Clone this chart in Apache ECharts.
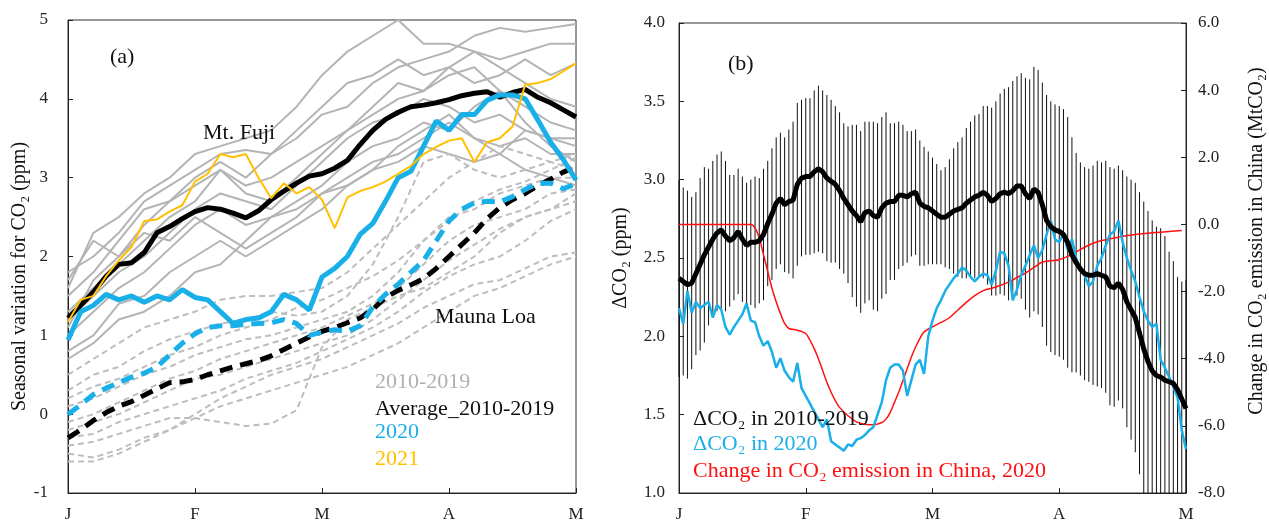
<!DOCTYPE html>
<html>
<head>
<meta charset="utf-8">
<script src="https://cdn.jsdelivr.net/npm/echarts@6.0.0/dist/echarts.min.js"></script>
<style>
    html, body { margin: 0; padding: 0; background: #fff; }
    #chart { width: 1269px; height: 523px; }
</style>
</head>
<body>
<div id="chart"></div>
<script>
// x runs in days from 1 Jan (0) to 1 May (120)
const monthLabels = ["J", "F", "M", "A", "M"];

// (a) thick lines, one value every 3 days
const fujiAvg = [1.22, 1.38, 1.55, 1.75, 1.90, 1.92, 2.05, 2.30, 2.38, 2.48, 2.57, 2.62, 2.60, 2.55, 2.49, 2.58, 2.72, 2.83, 2.93, 3.02, 3.05,
    3.12, 3.22, 3.42, 3.60, 3.74, 3.83, 3.90, 3.92, 3.95, 3.99, 4.04, 4.07, 4.09, 4.02, 4.08, 4.12, 4.02, 3.95, 3.86, 3.77];
const fuji2020 = [0.94, 1.30, 1.38, 1.52, 1.45, 1.50, 1.42, 1.50, 1.45, 1.58, 1.48, 1.45, 1.30, 1.15, 1.20, 1.22, 1.30, 1.52, 1.45, 1.32, 1.74,
    1.85, 2.00, 2.28, 2.42, 2.70, 3.00, 3.08, 3.40, 3.72, 3.60, 3.80, 3.80, 3.98, 4.05, 4.05, 4.00, 3.73, 3.45, 3.23, 2.97];
const fuji2021 = [1.17, 1.45, 1.50, 1.75, 1.95, 2.12, 2.45, 2.47, 2.57, 2.65, 2.95, 3.05, 3.30, 3.26, 3.30, 3.00, 2.74, 2.93, 2.80, 2.88, 2.72,
    2.36, 2.75, 2.83, 2.88, 2.95, 3.05, 3.15, 3.30, 3.39, 3.47, 3.50, 3.20, 3.45, 3.50, 3.65, 4.18, 4.20, 4.25, 4.35, 4.45];
const maunaAvg = [-0.30, -0.20, -0.08, 0.02, 0.10, 0.16, 0.24, 0.32, 0.40, 0.41, 0.44, 0.50, 0.55, 0.60, 0.64, 0.68, 0.74, 0.82, 0.90, 0.98, 1.05,
    1.10, 1.16, 1.22, 1.33, 1.48, 1.57, 1.64, 1.72, 1.85, 2.00, 2.15, 2.30, 2.48, 2.62, 2.72, 2.80, 2.90, 2.98, 3.07, 3.14];
const mauna2020 = [0.00, 0.12, 0.25, 0.33, 0.40, 0.47, 0.52, 0.60, 0.75, 0.90, 1.02, 1.10, 1.12, 1.12, 1.14, 1.15, 1.16, 1.20, 1.15, 1.00, 1.04,
    1.07, 1.05, 1.12, 1.36, 1.52, 1.65, 1.80, 1.95, 2.20, 2.45, 2.60, 2.68, 2.70, 2.69, 2.76, 2.85, 2.93, 2.93, 2.86, 2.92];

// (a) single years 2010-2019, one value every 6 days
const fujiYears = [
    [1.6, 2.3, 2.5, 2.8, 3.0, 3.3, 3.4, 3.5, 3.6, 3.9, 4.3, 4.6, 4.8, 5.0, 4.7, 4.7, 4.6, 4.5, 4.6, 4.7, 4.7],
    [1.8, 2.0, 2.3, 2.7, 2.9, 3.1, 3.3, 3.35, 3.3, 3.5, 3.8, 3.9, 4.2, 4.4, 4.5, 4.6, 4.8, 4.9, 4.85, 4.9, 4.95],
    [1.5, 1.8, 2.2, 2.6, 2.7, 3.0, 3.2, 3.0, 3.3, 3.6, 3.9, 4.2, 4.3, 4.5, 4.3, 4.4, 4.2, 4.3, 4.5, 4.3, 4.45],
    [1.3, 1.6, 1.9, 2.2, 2.5, 2.7, 3.1, 2.9, 3.0, 3.2, 3.4, 3.6, 3.8, 4.0, 4.1, 4.4, 4.6, 4.4, 4.2, 4.0, 3.9],
    [1.2, 1.5, 1.8, 2.0, 2.3, 2.6, 2.8, 2.7, 2.6, 2.9, 3.2, 3.5, 3.7, 3.8, 4.0, 3.9, 3.7, 3.8, 3.6, 3.5, 3.5],
    [1.0, 1.3, 1.6, 1.8, 2.1, 2.4, 2.6, 2.4, 2.5, 2.7, 2.9, 3.2, 3.4, 3.5, 3.7, 3.6, 3.9, 4.1, 3.7, 3.4, 3.2],
    [1.1, 1.7, 2.0, 2.3, 2.2, 2.5, 2.3, 2.1, 2.3, 2.5, 2.8, 3.0, 3.2, 3.3, 3.5, 3.7, 3.5, 3.4, 3.5, 3.3, 3.3],
    [0.8, 1.0, 1.4, 1.5, 1.8, 2.0, 2.2, 2.0, 2.2, 2.4, 2.6, 2.9, 3.1, 3.2, 3.4, 3.3, 3.2, 3.3, 3.6, 3.5, 3.4],
    [0.7, 0.9, 1.2, 1.3, 1.5, 1.8, 1.9, 2.2, 2.5, 2.6, 2.8, 2.9, 3.1, 3.4, 3.6, 3.8, 3.5, 3.3, 3.1, 3.0, 2.9],
    [1.7, 2.2, 2.0, 2.4, 2.7, 2.9, 3.1, 2.8, 2.7, 3.0, 3.3, 3.6, 3.9, 4.2, 4.1, 4.3, 4.4, 4.1, 3.9, 3.7, 3.6]
];
const maunaYears = [
    [0.5, 0.7, 0.9, 1.1, 1.2, 1.3, 1.45, 1.5, 1.5, 1.55, 1.6, 1.8, 2.1, 2.4, 2.7, 3.0, 3.2, 3.4, 3.3, 3.2, 3.3],
    [0.3, 0.5, 0.6, 0.8, 0.95, 1.05, 1.15, 1.2, 1.3, 1.25, 1.3, 1.5, 1.9, 2.5, 3.2, 3.3, 3.1, 3.0, 3.1, 3.2, 3.1],
    [0.1, 0.2, 0.35, 0.5, 0.6, 0.75, 0.85, 0.95, 1.0, 1.1, 1.2, 1.3, 1.5, 1.8, 2.2, 2.5, 2.6, 2.8, 2.9, 3.0, 3.0],
    [-0.1, 0.0, 0.15, 0.3, 0.45, 0.55, 0.7, 0.8, 0.9, 1.0, 1.1, 1.25, 1.4, 1.6, 1.9, 2.2, 2.4, 2.5, 2.6, 2.8, 2.85],
    [-0.2, -0.1, 0.0, 0.15, 0.3, 0.45, 0.5, 0.6, 0.7, 0.8, 0.9, 1.0, 1.2, 1.45, 1.7, 1.95, 2.15, 2.35, 2.5, 2.6, 2.7],
    [-0.3, -0.25, -0.1, 0.0, 0.1, 0.2, 0.3, 0.45, 0.55, 0.65, 0.8, 0.95, 1.1, 1.3, 1.55, 1.75, 1.9, 2.0, 2.2, 2.45, 2.6],
    [-0.4, -0.35, -0.25, -0.15, -0.05, -0.05, -0.1, -0.15, -0.12, 0.05, 0.85, 1.2, 1.35, 1.5, 1.6, 1.8, 2.0, 2.3, 2.5, 2.6, 2.8],
    [-0.5, -0.55, -0.45, -0.3, -0.2, -0.05, 0.1, 0.2, 0.3, 0.4, 0.5, 0.6, 0.75, 0.9, 1.1, 1.3, 1.5, 1.6, 1.75, 1.9, 2.0],
    [-0.6, -0.6, -0.5, -0.35, -0.2, 0.0, 0.2, 0.35, 0.5, 0.6, 0.7, 0.85, 1.0, 1.15, 1.35, 1.5, 1.65, 1.7, 1.85, 2.0, 2.05],
    [0.2, 0.35, 0.45, 0.6, 0.75, 0.85, 1.0, 1.1, 1.2, 1.35, 1.45, 1.6, 1.75, 1.95, 2.2, 2.45, 2.7, 2.85, 2.95, 3.1, 3.25]
];

// (b) daily values, 121 days
const dco2Mean = [
    2.37, 2.35, 2.33, 2.34, 2.40, 2.46, 2.52, 2.57, 2.62, 2.66,
    2.68, 2.64, 2.61, 2.63, 2.67, 2.62, 2.58, 2.60, 2.60, 2.61,
    2.65, 2.72, 2.78, 2.85, 2.88, 2.84, 2.86, 2.87, 2.97, 3.01,
    3.02, 3.02, 3.05, 3.07, 3.05, 3.01, 2.99, 2.97, 2.93, 2.88,
    2.84, 2.80, 2.77, 2.73, 2.79, 2.80, 2.77, 2.76, 2.82, 2.85,
    2.86, 2.86, 2.90, 2.90, 2.89, 2.91, 2.92, 2.85, 2.83, 2.82,
    2.80, 2.78, 2.76, 2.76, 2.78, 2.80, 2.81, 2.82, 2.85, 2.87,
    2.89, 2.90, 2.92, 2.90, 2.86, 2.88, 2.91, 2.92, 2.91, 2.93,
    2.96, 2.96, 2.91, 2.88, 2.94, 2.92, 2.84, 2.74, 2.70, 2.68,
    2.67, 2.65, 2.60, 2.52, 2.47, 2.43, 2.40, 2.39, 2.39, 2.40,
    2.39, 2.38, 2.32, 2.31, 2.34, 2.30, 2.22, 2.17, 2.12, 2.02,
    1.92, 1.84, 1.78, 1.75, 1.74, 1.72, 1.71, 1.70, 1.66, 1.60,
    1.54
];
const dco2Sd = [
    0.63, 0.60, 0.60, 0.55, 0.52, 0.55, 0.56, 0.50, 0.50, 0.50,
    0.50, 0.48, 0.42, 0.40, 0.40, 0.40, 0.40, 0.40, 0.42, 0.40,
    0.42, 0.40, 0.42, 0.42, 0.42, 0.43, 0.46, 0.50, 0.52, 0.50,
    0.50, 0.50, 0.52, 0.53, 0.52, 0.53, 0.52, 0.50, 0.50, 0.48,
    0.50, 0.55, 0.58, 0.58, 0.58, 0.57, 0.60, 0.60, 0.58, 0.58,
    0.50, 0.50, 0.47, 0.45, 0.42, 0.40, 0.40, 0.40, 0.38, 0.36,
    0.34, 0.32, 0.30, 0.32, 0.35, 0.40, 0.43, 0.45, 0.48, 0.50,
    0.52, 0.52, 0.55, 0.57, 0.60, 0.62, 0.64, 0.66, 0.68, 0.70,
    0.70, 0.72, 0.74, 0.76, 0.78, 0.78, 0.78, 0.80, 0.80, 0.80,
    0.80, 0.80, 0.80, 0.75, 0.70, 0.68, 0.68, 0.68, 0.70, 0.72,
    0.72, 0.74, 0.76, 0.76, 0.75, 0.76, 0.80, 0.83, 0.86, 0.90,
    0.94, 0.96, 0.96, 0.95, 0.95, 0.92, 0.83, 0.78, 0.72, 0.75,
    0.82
];
const dco2Year2020 = [
    2.18, 2.08, 2.29, 2.15, 2.22, 2.18, 2.20, 2.22, 2.12, 2.20,
    2.17, 2.06, 2.01, 2.06, 2.10, 2.14, 2.21, 2.10, 2.09, 2.00,
    1.94, 1.97, 1.90, 1.80, 1.86, 1.78, 1.74, 1.71, 1.83, 1.67,
    1.62, 1.57, 1.52, 1.47, 1.42, 1.47, 1.33, 1.31, 1.29, 1.27,
    1.31, 1.30, 1.34, 1.35, 1.37, 1.40, 1.42, 1.50, 1.58, 1.72,
    1.80, 1.82, 1.82, 1.78, 1.62, 1.72, 1.82, 1.85, 1.76, 2.00,
    2.10, 2.18, 2.23, 2.29, 2.33, 2.37, 2.40, 2.44, 2.42, 2.38,
    2.35, 2.38, 2.40, 2.39, 2.33, 2.42, 2.54, 2.53, 2.45, 2.23,
    2.30, 2.39, 2.45, 2.52, 2.58, 2.50, 2.55, 2.65, 2.74, 2.62,
    2.60, 2.66, 2.55, 2.62, 2.50, 2.42, 2.39, 2.32, 2.35, 2.45,
    2.50, 2.58, 2.65, 2.67, 2.74, 2.60, 2.50, 2.42, 2.35, 2.25,
    2.16, 2.10, 2.06, 2.08, 1.85, 1.80, 1.74, 1.68, 1.61, 1.40,
    1.28
];
const emissionDays = [0, 17, 18, 19, 20, 21, 22, 23, 24, 25, 26, 28, 30, 31, 32, 33, 34, 35, 36, 37, 38,
    40, 42, 44, 46, 48, 49, 50, 51, 52, 53, 54, 55, 56, 57, 58,
    60, 62, 64, 66, 68, 70, 72, 74, 76, 78, 80, 82, 84, 86, 88, 90,
    92, 94, 96, 98, 100, 104, 108, 112, 116, 119];
const emissionChange = [0, 0, -0.1, -0.4, -0.9, -1.4, -1.9, -2.3, -2.65, -2.95, -3.1, -3.15, -3.25, -3.45, -3.7, -4.0, -4.35, -4.7, -5.0, -5.25, -5.45,
    -5.7, -5.88, -5.95, -5.97, -5.9, -5.8, -5.6, -5.3, -5.0, -4.65, -4.3, -3.95, -3.65, -3.4, -3.2,
    -3.05, -2.92, -2.78, -2.55, -2.32, -2.12, -1.97, -1.9, -1.82, -1.72, -1.58, -1.45, -1.28, -1.12, -1.08, -1.05,
    -0.95, -0.82, -0.68, -0.56, -0.48, -0.38, -0.3, -0.25, -0.21, -0.18];

const serif = "Liberation Serif";
const grey = "#b4b4b4";
const blue = "#19afe8";
const gold = "#ffc000";

const step3 = fujiAvg.map((v, i) => i * 3);
const step6 = fujiYears[0].map((v, i) => i * 6);
const daily = dco2Mean.map((v, i) => i);

const pairs = (xs, ys) => xs.map((x, i) => [x, ys[i]]);

function lineSeries(data, color, width, type, grid, yIndex, z) {
    return {
        type: "line",
        xAxisIndex: grid,
        yAxisIndex: yIndex,
        data: data,
        showSymbol: false,
        silent: true,
        z: z,
        lineStyle: { color: color, width: width, type: type, cap: "butt" }
    };
}

const axisText = { fontFamily: serif, fontSize: 17, color: "#222" };

function xAxisFor(gridIndex) {
    return {
        gridIndex: gridIndex,
        type: "value",
        min: 0,
        max: 120,
        interval: 30,
        axisLine: { onZero: false, lineStyle: { color: "#222" } },
        axisTick: { inside: true, length: 5, lineStyle: { color: "#222" } },
        splitLine: { show: false },
        axisLabel: Object.assign({}, axisText, {
            margin: 13,
            formatter: v => monthLabels[v / 30]
        })
    };
}

// namePad moves the rotated axis title along the axis
function yAxisFor(gridIndex, side, min, max, step, name, gap, namePad, margin, fmt) {
    return {
        gridIndex: gridIndex,
        type: "value",
        position: side,
        min: min,
        max: max,
        interval: step,
        name: name,
        nameLocation: "middle",
        nameGap: gap,
        nameTextStyle: { fontFamily: serif, fontSize: 20, color: "#111", padding: namePad },
        axisLine: { show: true, onZero: false, lineStyle: { color: "#222" } },
        axisTick: { show: true, inside: true, length: 5, lineStyle: { color: "#222" } },
        splitLine: { show: false },
        axisLabel: Object.assign({ margin: margin, formatter: fmt }, axisText)
    };
}

const series = [];
fujiYears.forEach(ys => series.push(lineSeries(pairs(step6, ys), grey, 2, "solid", 0, 0, 2)));
maunaYears.forEach(ys => series.push(lineSeries(pairs(step6, ys), "#bdbdbd", 2, [6, 4], 0, 0, 2)));
series.push(lineSeries(pairs(step3, maunaAvg), "#000", 5, [13, 8], 0, 0, 3));
series.push(lineSeries(pairs(step3, mauna2020), blue, 5, [13, 8], 0, 0, 3));
series.push(lineSeries(pairs(step3, fujiAvg), "#000", 5, "solid", 0, 0, 4));
series.push(lineSeries(pairs(step3, fuji2020), blue, 5, "solid", 0, 0, 4));
series.push(lineSeries(pairs(step3, fuji2021), gold, 2, "solid", 0, 0, 5));

// error bars of the 2010-2019 mean
series.push({
    type: "custom",
    xAxisIndex: 1,
    yAxisIndex: 1,
    silent: true,
    z: 2,
    data: daily.map(d => [d, dco2Mean[d] - dco2Sd[d], dco2Mean[d] + dco2Sd[d]]),
    encode: { x: 0, y: [1, 2] },
    renderItem: (params, api) => {
        const cs = params.coordSys;
        const lo = api.coord([api.value(0), api.value(1)]);
        const hi = api.coord([api.value(0), api.value(2)]);
        const clampY = y => Math.min(Math.max(y, cs.y), cs.y + cs.height);
        return {
            type: "line",
            shape: { x1: lo[0], y1: clampY(lo[1]), x2: hi[0], y2: clampY(hi[1]) },
            style: { stroke: "#111", lineWidth: 1 }
        };
    }
});
const emissionLine = lineSeries(pairs(emissionDays, emissionChange), "#ff1010", 1.5, "solid", 1, 2, 3);
emissionLine.smooth = 0.3;
series.push(emissionLine);
series.push(lineSeries(pairs(daily, dco2Year2020), blue, 2.5, "solid", 1, 1, 4));
series.push(lineSeries(pairs(daily, dco2Mean), "#000", 5, "solid", 1, 1, 5));

function label(text, x, y, color) {
    return {
        type: "text",
        left: x,
        top: y,
        z: 100,
        style: { text: text, fill: color, font: "22px '" + serif + "'" }
    };
}

const chart = echarts.init(document.getElementById("chart"));
chart.setOption({
    animation: false,
    backgroundColor: "#fff",
    grid: [
        { left: 68, top: 20, width: 508, height: 474, show: true, borderColor: "#333", borderWidth: 1 },
        { left: 679, top: 23, width: 507, height: 474, show: true, borderColor: "#333", borderWidth: 1 }
    ],
    xAxis: [xAxisFor(0), xAxisFor(1)],
    yAxis: [
        yAxisFor(0, "left", -1, 5, 1, "Seasonal variation for CO₂ (ppm)", 37, [0, 40, 0, 0], 20, null),
        yAxisFor(1, "left", 1, 4, 0.5, "ΔCO₂ (ppm)", 48, 0, 14, v => v.toFixed(1)),
        yAxisFor(1, "right", -8, 6, 2, "Change in CO₂ emission in China (MtCO₂)", 61, [0, 0, 0, 34], 12, v => v.toFixed(1))
    ],
    graphic: [
        label("(a)", 110, 46, "#111"),
        label("Mt. Fuji", 203, 122, "#111"),
        label("Mauna Loa", 435, 306, "#111"),
        label("2010-2019", 375, 371, "#b0b0b0"),
        label("Average_2010-2019", 375, 398, "#111"),
        label("2020", 375, 421, blue),
        label("2021", 375, 448, gold),
        label("(b)", 728, 53, "#111"),
        label("ΔCO₂ in 2010-2019", 693, 408, "#111"),
        label("ΔCO₂ in 2020", 693, 433, blue),
        label("Change in CO₂ emission in China, 2020", 693, 460, "#ff1010")
    ],
    series: series
});
</script>
</body>
</html>
